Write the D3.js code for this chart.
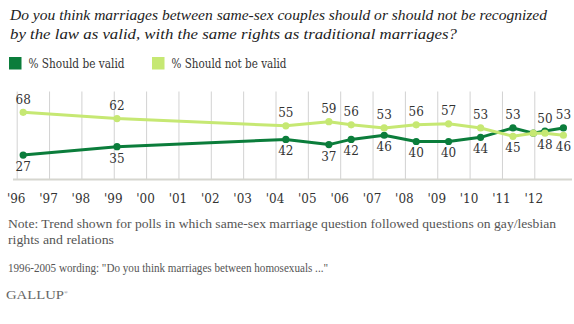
<!DOCTYPE html>
<html>
<head>
<meta charset="utf-8">
<script src="https://cdn.jsdelivr.net/npm/d3@7"></script>
<style>
  html, body { margin: 0; padding: 0; background: #fff; }
  svg { display: block; }
</style>
</head>
<body>
<div id="chart"></div>
<script>
// ---- data ----
const dates    = [1996.2, 1999.1, 2004.32, 2005.65, 2006.34, 2007.36, 2008.35, 2009.35, 2010.34, 2011.34, 2011.97, 2012.33, 2012.9];
const valid    = [27, 35, 42, 37, 42, 46, 40, 40, 44, 53, 48, 50, 53];
const notValid = [68, 62, 55, 59, 56, 53, 56, 57, 53, 45, 48, 48, 46];
const showLabel = [true, true, true, true, true, true, true, true, true, true, false, true, true];
const tickYears = d3.range(1996, 2013);
const seriesNames = ["% Should be valid", "% Should not be valid"];
const titleLines = [
  "Do you think marriages between same-sex couples should or should not be recognized",
  "by the law as valid, with the same rights as traditional marriages?"
];
const noteLines = [
  "Note: Trend shown for polls in which same-sex marriage question followed questions on gay/lesbian",
  "rights and relations",
  "",
  "1996-2005 wording: \"Do you think marriages between homosexuals ...\""
];

const W = 574, H = 324;
const darkGreen = "#0b7d3b", lightGreen = "#c6e873";
const wideSerif = "'DejaVu Serif', Georgia, serif";
const narrowSerif = "'Liberation Serif', 'Times New Roman', serif";

const svg = d3.select("#chart").append("svg").attr("width", W).attr("height", H)
  .style("font-family", wideSerif);

const x = d3.scaleLinear().domain([1996, 2012]).range([16.7, 534.3]);
const y = d3.scaleLinear().domain([3.5, 88]).range([179.5, 91.5]);

// title
const titleLens = [537, 447];
titleLines.forEach((t, i) => {
  svg.append("text").attr("x", 10).attr("y", 19.5 + i * 19)
    .style("font-family", narrowSerif).style("font-size", "15px").style("font-style", "italic")
    .attr("fill", "#222")
    .attr("textLength", titleLens[i]).attr("lengthAdjust", "spacingAndGlyphs")
    .text(t);
});

// legend
const legX = [9, 152], legLens = [96, 115], legColors = [darkGreen, lightGreen];
seriesNames.forEach((n, i) => {
  svg.append("rect").attr("x", legX[i]).attr("y", 57).attr("width", 12.5).attr("height", 12.5).attr("fill", legColors[i]);
  svg.append("text").attr("x", legX[i] + 19.5).attr("y", 67.5)
    .style("font-size", "12px").attr("fill", "#333")
    .attr("textLength", legLens[i]).attr("lengthAdjust", "spacingAndGlyphs")
    .text(n);
});

// axis with gridlines
const axis = d3.axisBottom(x).tickValues(tickYears)
  .tickSize(-(y.range()[0] - y.range()[1]))
  .tickPadding(15)
  .tickFormat(d => "'" + String(d).slice(2));
const gAxis = svg.append("g").attr("transform", `translate(0,${y.range()[0]})`).call(axis);
gAxis.attr("font-family", null).attr("font-size", null);
gAxis.select(".domain").remove();
gAxis.selectAll(".tick line").attr("stroke", "#d2d2d2").attr("stroke-width", 1);
gAxis.selectAll(".tick text").style("font-family", wideSerif).style("font-size", "12px").attr("fill", "#333").attr("dx", -1);
svg.append("line").attr("x1", 13).attr("x2", 572).attr("y1", y.range()[0]).attr("y2", y.range()[0])
  .attr("stroke", "#d6d6cf").attr("stroke-width", 2);

// lines
const series = [
  { vals: valid, color: darkGreen },
  { vals: notValid, color: lightGreen }
];
const line = d3.line().x(d => x(d[0])).y(d => y(d[1]));
series.forEach(s => {
  const pts = dates.map((d, i) => [d, s.vals[i]]);
  svg.append("path").datum(pts).attr("d", line).attr("fill", "none")
    .attr("stroke", s.color).attr("stroke-width", 3).attr("stroke-linejoin", "round");
  svg.selectAll(null).data(pts).enter().append("circle")
    .attr("cx", d => x(d[0])).attr("cy", d => y(d[1])).attr("r", 3.6).attr("fill", s.color);
});

// value labels: higher series above, lower below
series.forEach((s, si) => {
  const other = series[1 - si].vals;
  dates.forEach((d, i) => {
    if (!showLabel[i]) return;
    const v = s.vals[i];
    const above = v > other[i];
    svg.append("text").attr("x", x(d)).attr("y", above ? y(v) - 8.5 : y(v) + 16)
      .attr("text-anchor", "middle").style("font-size", "12px").attr("fill", "#333")
      .text(v);
  });
});

// notes
const noteLens = [548, 106, 0, 320];
const noteY = [228, 244, 0, 272];
noteLines.forEach((t, i) => {
  if (!t) return;
  svg.append("text").attr("x", 8).attr("y", noteY[i])
    .style("font-family", narrowSerif).style("font-size", "13.5px").attr("fill", "#555")
    .attr("textLength", noteLens[i]).attr("lengthAdjust", "spacingAndGlyphs")
    .text(t);
});

// logo
const logo = svg.append("text").attr("x", 6).attr("y", 299)
  .style("font-family", narrowSerif).style("font-size", "13px").attr("fill", "#666");
logo.append("tspan").attr("textLength", 58).attr("lengthAdjust", "spacingAndGlyphs").text("GALLUP");
logo.append("tspan").style("font-size", "5px").attr("dy", -5).text("®");
</script>
</body>
</html>
